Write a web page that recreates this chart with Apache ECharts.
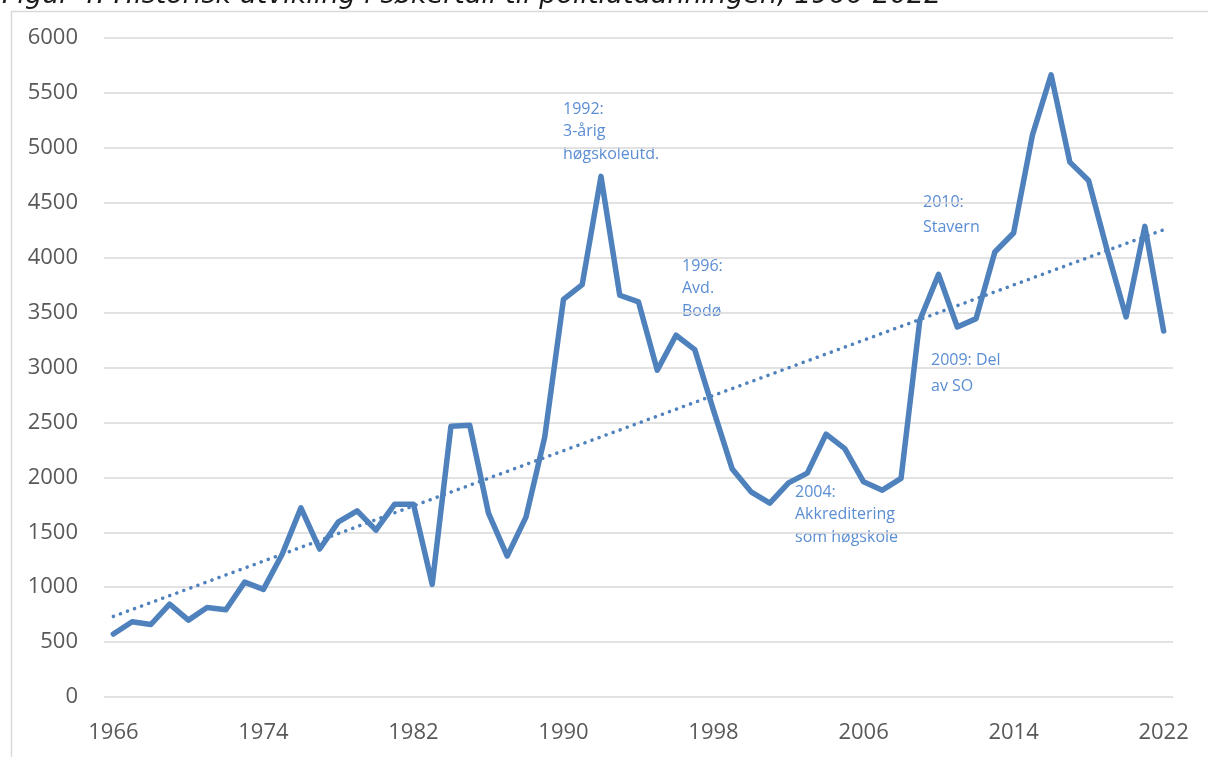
<!DOCTYPE html>
<html>
<head>
<meta charset="utf-8">
<script src="https://cdn.jsdelivr.net/npm/echarts@6/dist/echarts.min.js"></script>
<style>
html,body{margin:0;padding:0;background:#fff;}
#chart{width:1208px;height:757px;}
</style>
</head>
<body>
<div id="chart"></div>
<script>
const years = [];
for (let y = 1966; y <= 2022; y++) years.push(String(y));

const applicants = [
  573, 685, 660, 846, 700, 815, 795, 1046, 980, 1300,
  1722, 1347, 1595, 1695, 1519, 1756, 1756, 1025, 2466, 2475,
  1674, 1283, 1638, 2365, 3621, 3755, 4740, 3658, 3597, 2975,
  3294, 3163, 2610, 2075, 1868, 1765, 1950, 2038, 2393, 2262,
  1959, 1883, 1990, 3430, 3848, 3369, 3445, 4052, 4225, 5113,
  5665, 4870, 4703, 4060, 3460, 4285, 3332
];

const yTicks = [0, 6000, 500];

const annotations = [
  { text: '1992:\n3-årig\nhøgskoleutd.', left: 563, top: 98, lh: 22.5 },
  { text: '1996:\nAvd.\nBodø', left: 682, top: 255, lh: 22.5 },
  { text: '2004:\nAkkreditering\nsom høgskole', left: 795, top: 481, lh: 22.5 },
  { text: '2009: Del\nav SO', left: 931, top: 347, lh: 26 },
  { text: '2010:\nStavern', left: 923, top: 190, lh: 25 }
];

const titleText = 'Figur 4: Historisk utvikling i søkertall til politiutdanningen, 1966-2022';

// Linear trend (least squares) computed from the data
const n = applicants.length;
let sx = 0, sy = 0, sxy = 0, sxx = 0;
for (let i = 0; i < n; i++) { sx += i; sy += applicants[i]; sxy += i * applicants[i]; sxx += i * i; }
const slope = (n * sxy - sx * sy) / (n * sxx - sx * sx);
const intercept = (sy - slope * sx) / n;
const trend = applicants.map((_, i) => +(intercept + slope * i).toFixed(1));

const chart = echarts.init(document.getElementById('chart'), null, { renderer: 'canvas' });

const graphics = [
  {
    type: 'rect', left: 9, top: 9, z: -1,
    shape: { width: 1400, height: 1000 },
    style: { fill: 'none', stroke: '#d9d9d9', lineWidth: 1.5 }
  },
  {
    type: 'text', x: 2, y: -18, z: 10,
    style: {
      text: titleText, fill: '#1a1a1a',
      font: 'italic 27px "DejaVu Sans"'
    }
  }
];
annotations.forEach(a => {
  graphics.push({
    type: 'text', left: a.left, top: a.top,
    style: {
      text: a.text, fill: '#5b8dd3',
      font: '16px "Open Sans"', lineHeight: a.lh
    }
  });
});

chart.setOption({
  animation: false,
  backgroundColor: '#ffffff',
  grid: { left: 104, right: 35, top: 38, bottom: 60, containLabel: false },
  xAxis: {
    type: 'category',
    data: years,
    boundaryGap: true,
    axisLine: { show: false },
    axisTick: { show: false },
    axisLabel: {
      interval: 7, margin: 25,
      color: '#595959', fontSize: 22, fontFamily: 'Open Sans'
    },
    splitLine: { show: false }
  },
  yAxis: {
    type: 'value',
    min: yTicks[0], max: yTicks[1], interval: yTicks[2],
    axisLine: { show: false },
    axisTick: { show: false },
    axisLabel: {
      margin: 26, color: '#595959', fontSize: 22, fontFamily: 'Open Sans',
      formatter: v => String(v)
    },
    splitLine: { lineStyle: { color: '#d9d9d9', width: 1.5 } }
  },
  series: [
    {
      name: 'Søkertall',
      type: 'line',
      data: applicants,
      symbol: 'none',
      lineStyle: { color: '#4f81bd', width: 5.5, cap: 'round', join: 'round' },
      z: 3
    },
    {
      name: 'Trend',
      type: 'line',
      data: trend,
      symbol: 'none',
      lineStyle: { color: '#4f81bd', width: 3.5, type: [0.1, 7.4], cap: 'round' },
      z: 2
    }
  ],
  graphic: graphics
});
</script>
</body>
</html>
